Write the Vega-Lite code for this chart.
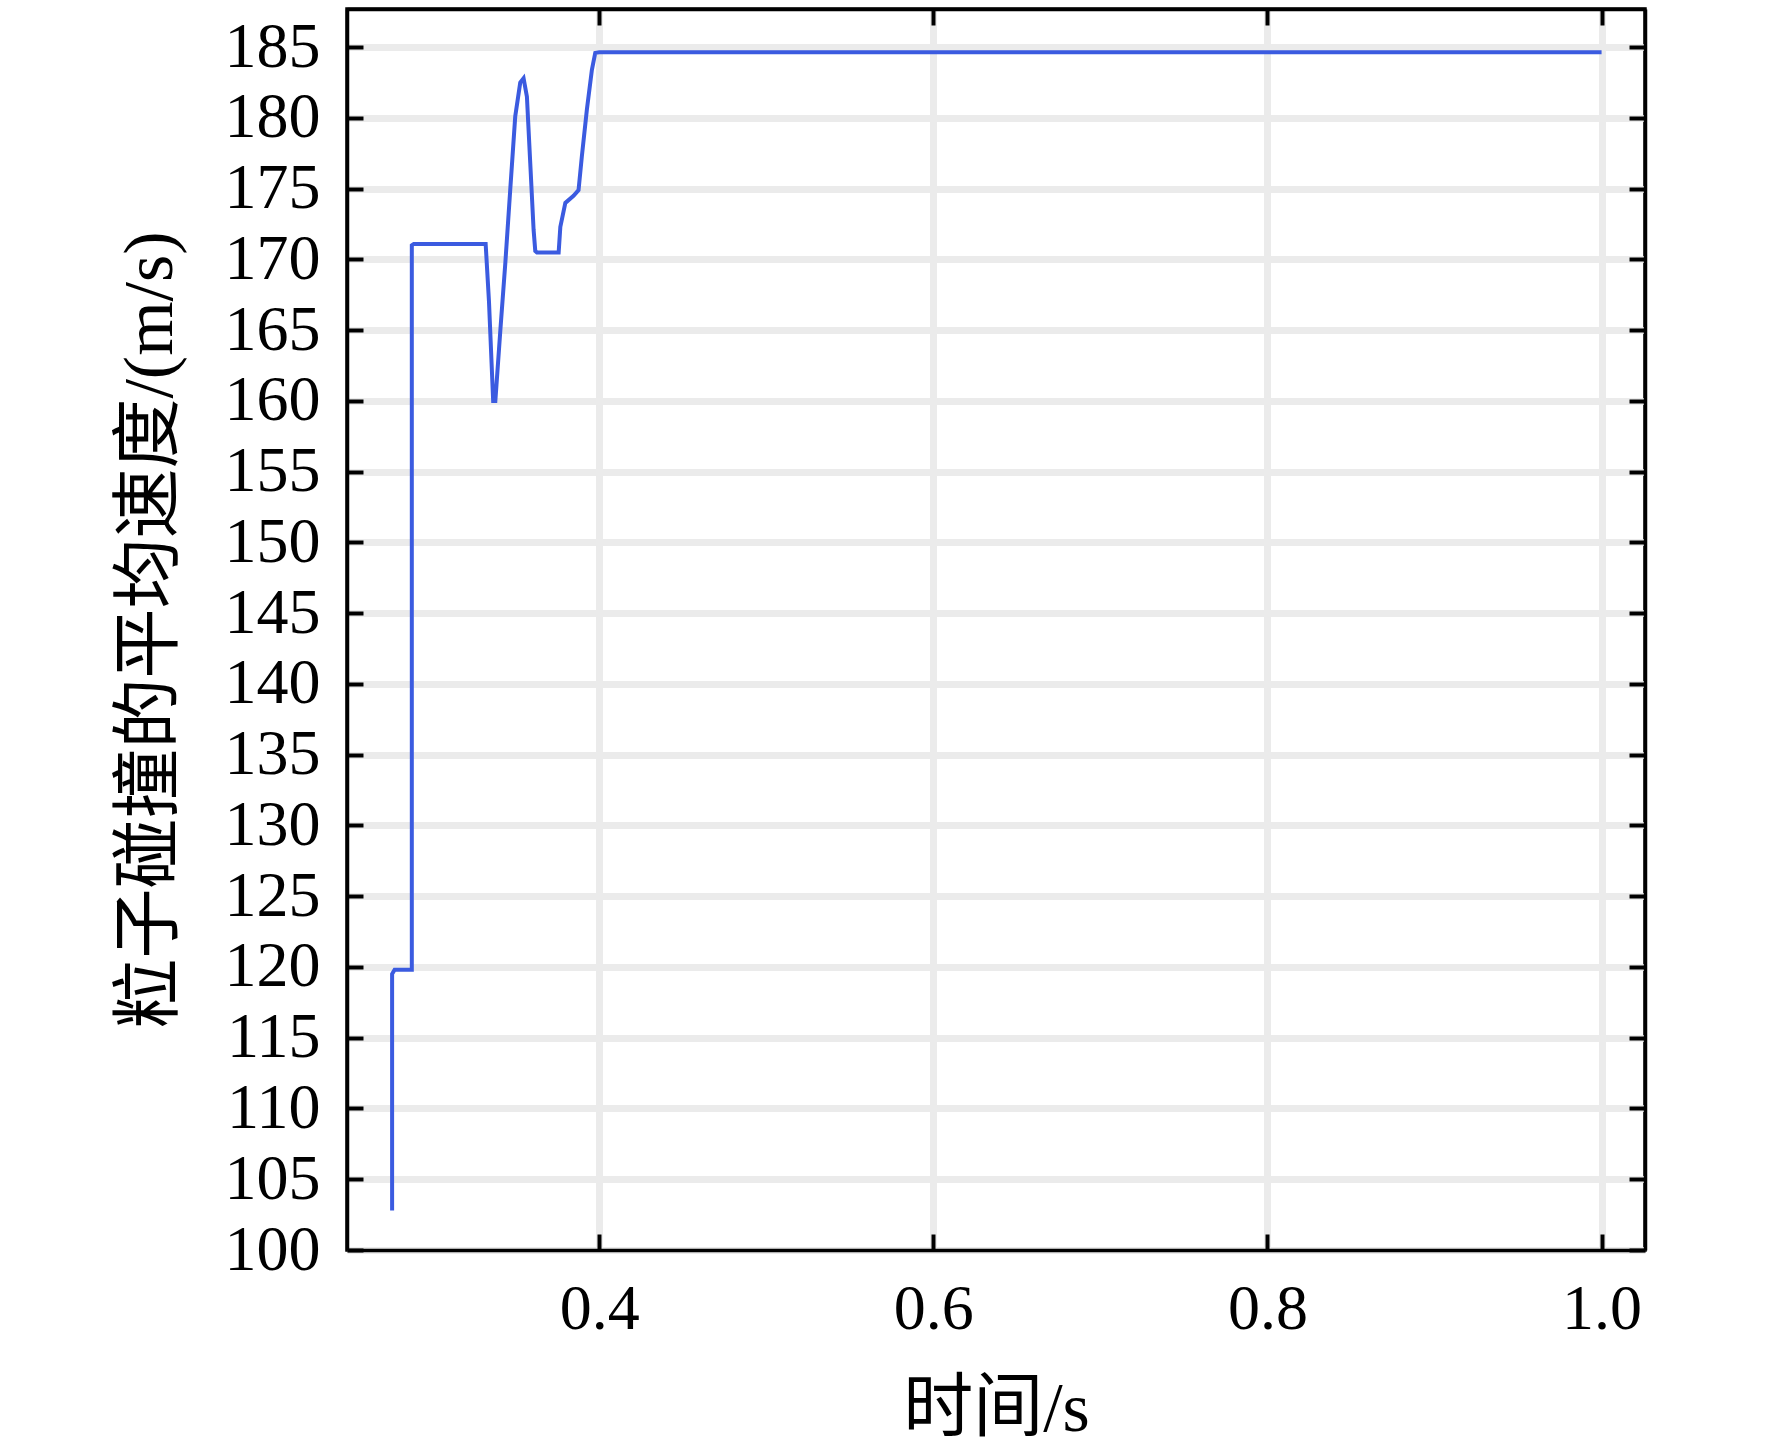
{
  "$schema": "https://vega.github.io/schema/vega-lite/v6.json",
  "width": 1298,
  "height": 1241,
  "autosize": {"type": "none"},
  "padding": {"left": 347, "top": 9, "right": 127, "bottom": 201},
  "background": "white",
  "config": {
    "view": {"stroke": "black", "strokeWidth": 3.5},
    "axis": {
      "labelFont": "Liberation Serif",
      "labelFontSize": 64,
      "labelColor": "black",
      "titleFont": "Liberation Serif, Noto Sans CJK SC",
      "titleFontSize": 70,
      "titleFontWeight": "normal",
      "titleColor": "black",
      "domainColor": "black",
      "domainWidth": 3.5,
      "tickColor": "black",
      "tickWidth": 4,
      "tickSize": -16,
      "gridColor": "#ebebeb",
      "gridWidth": 7,
      "gridOpacity": 1
    }
  },
  "data": {
    "values": [
      {"t": 0.276, "v": 102.8},
      {"t": 0.276, "v": 119.5},
      {"t": 0.2775, "v": 119.8},
      {"t": 0.2878, "v": 119.8},
      {"t": 0.2878, "v": 171.0},
      {"t": 0.289, "v": 171.1},
      {"t": 0.332, "v": 171.1},
      {"t": 0.334, "v": 167.0},
      {"t": 0.3365, "v": 160.0},
      {"t": 0.3378, "v": 160.0},
      {"t": 0.3408, "v": 165.0},
      {"t": 0.3438, "v": 169.8},
      {"t": 0.3467, "v": 174.9},
      {"t": 0.3497, "v": 180.1},
      {"t": 0.3527, "v": 182.5},
      {"t": 0.3547, "v": 182.8},
      {"t": 0.3567, "v": 181.5},
      {"t": 0.3587, "v": 176.8},
      {"t": 0.3607, "v": 172.1},
      {"t": 0.3617, "v": 170.6},
      {"t": 0.3627, "v": 170.5},
      {"t": 0.3757, "v": 170.5},
      {"t": 0.3767, "v": 172.3},
      {"t": 0.3797, "v": 174.0},
      {"t": 0.3846, "v": 174.5},
      {"t": 0.3876, "v": 174.9},
      {"t": 0.3896, "v": 177.3},
      {"t": 0.3926, "v": 180.6},
      {"t": 0.3956, "v": 183.4},
      {"t": 0.3976, "v": 184.6},
      {"t": 0.4, "v": 184.65},
      {"t": 1.0, "v": 184.65}
    ]
  },
  "resolve": {"axis": {"x": "independent", "y": "independent"}},
  "layer": [
    {
      "mark": {"type": "line", "color": "#3b5be0", "strokeWidth": 4, "clip": true},
      "encoding": {
        "x": {
          "field": "t", "type": "quantitative",
          "scale": {"domain": [0.249, 1.026], "nice": false, "zero": false},
          "axis": {
            "orient": "bottom",
            "title": "时间/s",
            "values": [0.4, 0.6, 0.8, 1.0],
            "format": ".1f",
            "grid": true,
            "labelPadding": 43,
            "titlePadding": 34
          }
        },
        "y": {
          "field": "v", "type": "quantitative",
          "scale": {"domain": [100, 187.7], "nice": false, "zero": false},
          "axis": {
            "orient": "left",
            "title": "粒子碰撞的平均速度/(m/s)",
            "values": [100, 105, 110, 115, 120, 125, 130, 135, 140, 145, 150, 155, 160, 165, 170, 175, 180, 185],
            "grid": true,
            "labelPadding": 43,
            "titlePadding": 38
          }
        },
        "order": {"field": "t", "type": "quantitative"}
      }
    },
    {
      "mark": {"type": "line", "opacity": 0},
      "encoding": {
        "x": {
          "field": "t", "type": "quantitative",
          "axis": {
            "orient": "top",
            "title": null,
            "values": [0.4, 0.6, 0.8, 1.0],
            "labels": false,
            "grid": false
          }
        },
        "y": {
          "field": "v", "type": "quantitative",
          "axis": {
            "orient": "right",
            "title": null,
            "values": [100, 105, 110, 115, 120, 125, 130, 135, 140, 145, 150, 155, 160, 165, 170, 175, 180, 185],
            "labels": false,
            "grid": false
          }
        }
      }
    }
  ]
}
